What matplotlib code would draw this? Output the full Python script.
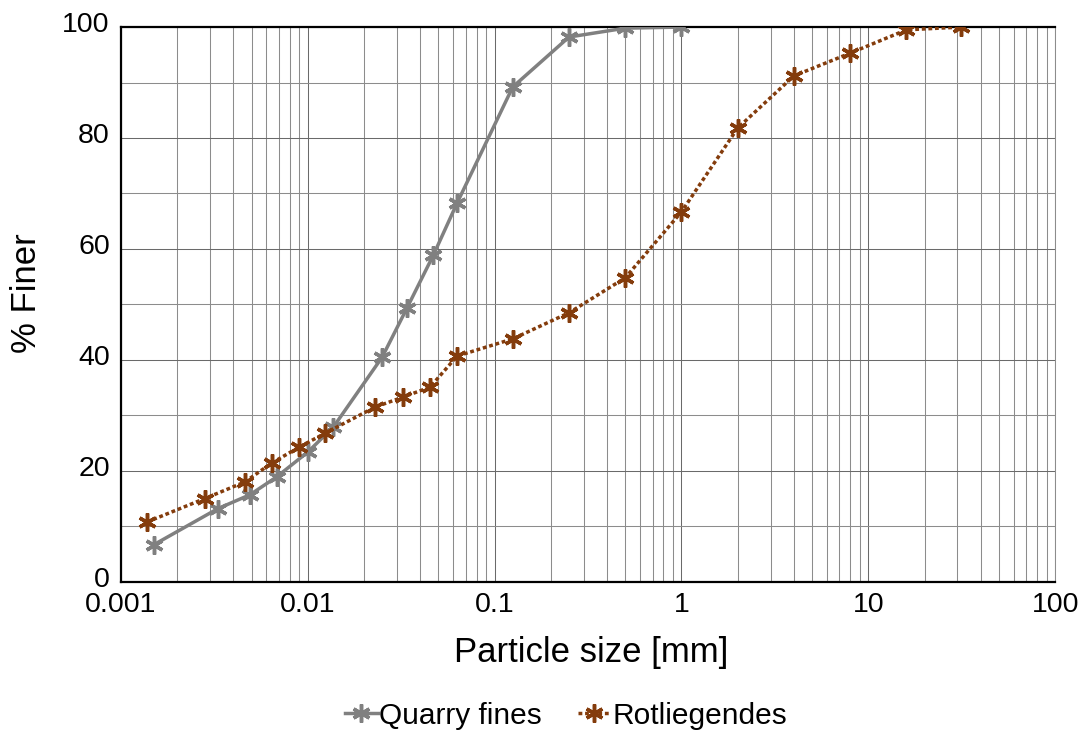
import matplotlib
matplotlib.use('Agg')
import matplotlib.pyplot as plt
import matplotlib.transforms as mtransforms
from matplotlib.ticker import LogLocator, FixedLocator, FuncFormatter

plt.rcParams['font.family'] = ['Liberation Sans', 'DejaVu Sans']

# particle size [mm] and % finer
quarry_x = [0.0015, 0.0033, 0.0049, 0.0068, 0.0100, 0.0137, 0.025, 0.034,
            0.047, 0.063, 0.125, 0.25, 0.5, 1.0]
quarry_y = [6.7, 13.2, 15.7, 18.9, 23.4, 27.9, 40.5, 49.4,
            58.9, 68.3, 89.2, 98.2, 99.8, 100.0]

rotl_x = [0.00138, 0.0028, 0.0046, 0.0064, 0.009, 0.0124, 0.0229, 0.0323,
          0.0451, 0.063, 0.125, 0.25, 0.5, 1.0, 2.0, 4.0, 8.0, 16.0, 31.5]
rotl_y = [10.8, 15.0, 18.0, 21.4, 24.3, 26.8, 31.5, 33.3,
          35.1, 40.7, 43.8, 48.5, 54.8, 66.7, 81.8, 91.2, 95.3, 99.5, 100.0]

x_ticks = [0.001, 0.01, 0.1, 1, 10, 100]
x_labels = ['0.001', '0.01', '0.1', '1', '10', '100']
y_ticks = [0, 20, 40, 60, 80, 100]

fig = plt.figure(figsize=(10.8, 7.31), dpi=100)
ax = fig.add_axes([0.112, 0.204, 0.865, 0.759])

star = (6, 2, 0)
ax.plot(quarry_x, quarry_y, color='#808080', lw=2.5, marker=star, ms=13,
        mew=2.5, label='Quarry fines', zorder=3)
ax.plot(rotl_x, rotl_y, color='#843C0C', lw=2.5, ls=(0, (1.1, 0.8)),
        dash_capstyle='butt', marker=star, ms=13, mew=2.5,
        label='Rotliegendes', zorder=4)

ax.set_xscale('log')
ax.set_xlim(0.001, 100)
ax.set_ylim(0, 100)
ax.xaxis.set_major_locator(FixedLocator(x_ticks))
ax.xaxis.set_major_formatter(FuncFormatter(lambda v, p: x_labels[x_ticks.index(v)] if v in x_ticks else ''))
ax.xaxis.set_minor_locator(LogLocator(base=10, subs=range(2, 10), numticks=50))
ax.set_yticks(y_ticks)
ax.yaxis.set_minor_locator(FixedLocator(range(10, 100, 20)))

ax.grid(True, which='major', color='#6a6a6a', lw=0.75)
ax.grid(True, which='minor', color='#8c8c8c', lw=0.75)
ax.set_axisbelow(True)
ax.tick_params(which='both', length=0)
ax.tick_params(axis='x', labelsize=20.5, pad=7)
ax.tick_params(axis='y', labelsize=20.5, pad=8)

# y tick labels sit a little above their gridlines in the original
shift = mtransforms.ScaledTranslation(0, 5 / 100, fig.dpi_scale_trans)
for lab in ax.get_yticklabels():
    lab.set_transform(lab.get_transform() + shift)

for s in ['left', 'bottom', 'top']:
    ax.spines[s].set_color('black')
    ax.spines[s].set_linewidth(1.6)
ax.spines['right'].set_color('#8c8c8c')
ax.spines['right'].set_linewidth(0.75)

ax.set_xlabel('Particle size [mm]', fontsize=25)
ax.set_ylabel('% Finer', fontsize=25)
ax.xaxis.set_label_coords(0.503, -0.097)
ax.yaxis.set_label_coords(-0.083, 0.521)

fig.legend(loc='center', bbox_to_anchor=(0.524, 0.021), ncol=2,
           frameon=False, fontsize=21.5, handlelength=1.1, handletextpad=0.05,
           columnspacing=1.2, borderpad=0)

fig.savefig('out.png', dpi=100)
